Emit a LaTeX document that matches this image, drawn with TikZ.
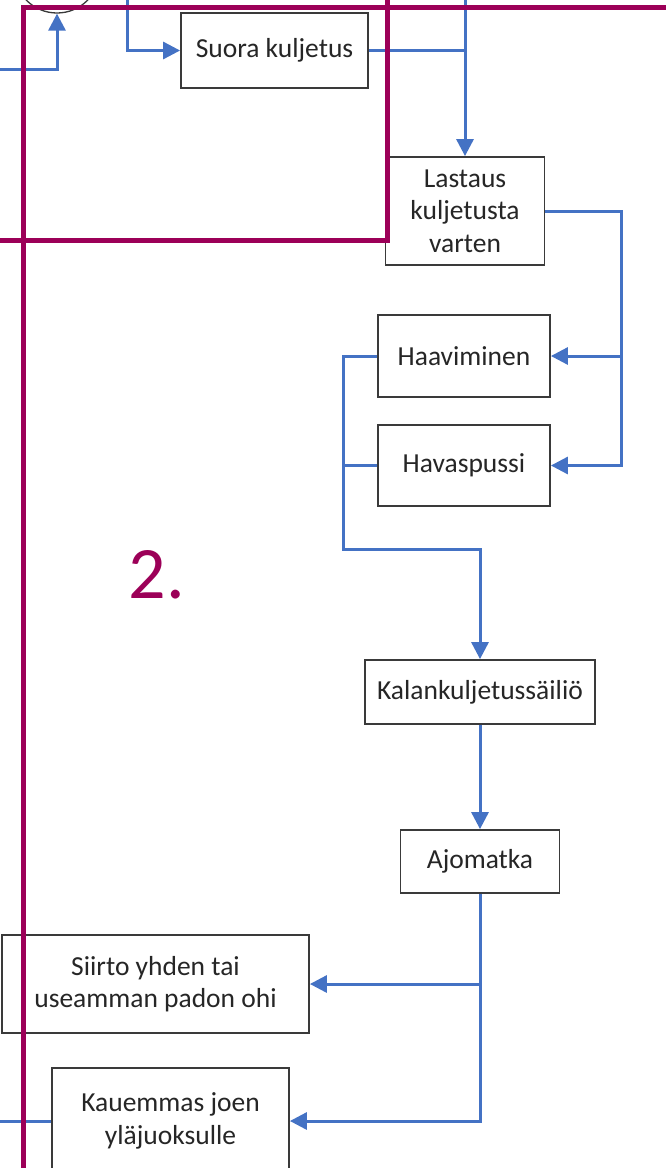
\documentclass[tikz,border=0pt]{standalone}
\usepackage{fontspec}
\setmainfont{Carlito}
\usetikzlibrary{arrows.meta}
\definecolor{flow}{HTML}{4472C4}
\definecolor{mag}{HTML}{9C0058}
\definecolor{boxline}{HTML}{3A3A3A}
\begin{document}
\begin{tikzpicture}[x=1pt,y=-1pt,
  box/.style={draw=boxline, line width=1.8pt, fill=white, align=center, inner sep=0pt,
    text=black!85, font=\fontsize{27.5}{32.5}\selectfont},
  flowline/.style={draw=flow, line width=3pt},
  arr/.style={flowline, -{Triangle[length=17pt,width=17pt]}},
  frame/.style={draw=mag, line width=5pt}]
\useasboundingbox (0,0) rectangle (666,1168);
\clip (0,0) rectangle (666,1168);

% nodes
\node[draw=boxline, line width=1.3pt, circle, minimum size=86pt, inner sep=0pt] (circ) at (57,-30) {};
\node[box, minimum width=187pt, minimum height=75pt] (suora) at (274.5,50.5) {Suora kuljetus};
\node[box, minimum width=159pt, minimum height=108pt] (lastaus) at (465,211) {Lastaus\\kuljetusta\\varten};
\node[box, minimum width=172pt, minimum height=82pt] (haav) at (464,356) {Haaviminen};
\node[box, minimum width=172pt, minimum height=81pt] (havas) at (464,465.5) {Havaspussi};
\node[box, minimum width=230pt, minimum height=64pt] (kala) at (480,692) {Kalankuljetussäiliö};
\node[box, minimum width=159pt, minimum height=63pt] (ajo) at (480,861.5) {Ajomatka};
\node[box, minimum width=307pt, minimum height=98pt] (siirto) at (155.5,984) {Siirto yhden tai\\useamman padon ohi};
\node[box, minimum width=237pt, minimum height=106pt] (kauem) at (170.5,1121) {Kauemmas joen\\yläjuoksulle};

% free ends
\coordinate (inL) at (0,69);
\coordinate (topA) at (127,0);
\coordinate (topB) at (465,0);
\coordinate (rj) at (621,211);
\coordinate (lj) at (343,549);
\coordinate (outL) at (0,1121);

% connectors
\draw[arr] (inL) -| (circ);
\draw[arr] (topA) |- (suora.west);
\draw[arr] (topB) -- (lastaus.north);
\draw[flowline] (suora.east) -- (suora.east -| topB);
\draw[arr] (lastaus.east) -- (rj) |- (haav.east);
\draw[arr] (rj) |- (havas.east);
\draw[arr] (haav.west) -| (lj) -| (kala.north);
\draw[flowline] (havas.west) -- (havas.west -| lj);
\draw[arr] (kala.south) -- (ajo.north);
\draw[arr] (ajo.south) |- (siirto.east);
\draw[arr] (ajo.south) |- (kauem.east);
\draw[flowline] (kauem.west) -- (outL);

% region frames
\draw[frame] (23,1200) -- (23,7) -- (700,7);
\draw[frame] (-30,240) -- (387,240) -- (387,-30);
\node[text=mag, font=\fontsize{74}{74}\selectfont, inner sep=0pt] (lbl) at (157,575) {2.};
\end{tikzpicture}
\end{document}
